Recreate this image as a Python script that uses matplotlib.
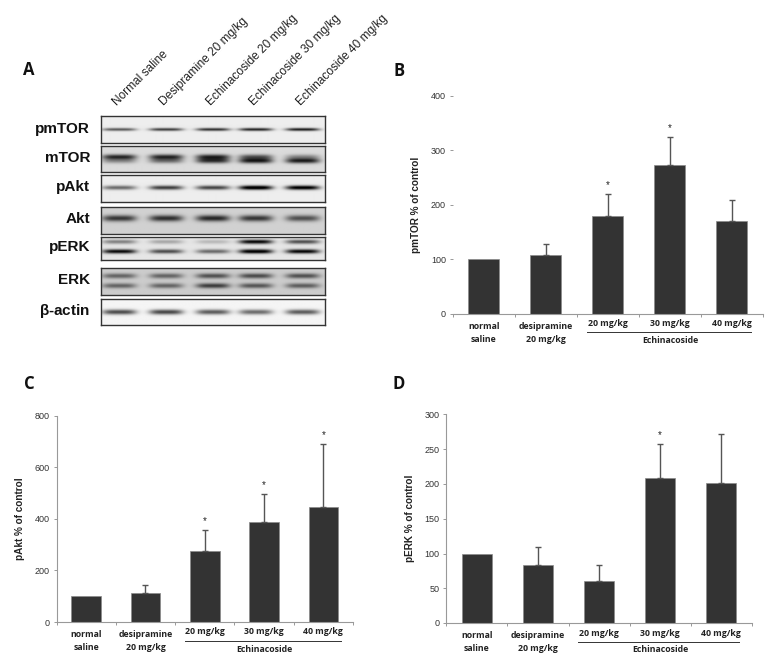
import numpy as np
import matplotlib
matplotlib.use('Agg')
import matplotlib.pyplot as plt

W, H = 779, 666

# bar panel data
cats = ['normal\nsaline', 'desipramine\n20 mg/kg', '20 mg/kg', '30 mg/kg', '40 mg/kg']
pmtor = [100, 108, 180, 273, 170]
pmtor_err = [0, 20, 40, 52, 40]
pmtor_stars = [2, 3]
pakt = [100, 113, 275, 387, 445]
pakt_err = [0, 30, 81, 108, 243]
pakt_stars = [2, 3, 4]
perk = [100, 84, 60, 209, 201]
perk_err = [0, 26, 23, 48, 71]
perk_stars = [3]

# blot data
lane_labels = ['Normal saline', 'Desipramine 20 mg/kg', 'Echinacoside 20 mg/kg',
               'Echinacoside 30 mg/kg', 'Echinacoside 40 mg/kg']
blot_names = ['pmTOR', 'mTOR', 'pAkt', 'Akt', 'pERK', 'ERK', '$\\mathregular{\\beta}$-actin']
# one row per band: vertical place in the box, then darkness in each lane
pmtor_bands = [(0.48, [0.55, 0.65, 0.70, 0.75, 0.78])]
mtor_bands = [(0.40, [0.68, 0.68, 0.68, 0.50, 0.30]), (0.55, [0.30, 0.40, 0.62, 0.72, 0.72])]
pakt_bands = [(0.45, [0.50, 0.68, 0.65, 1.0, 0.95])]
akt_bands = [(0.42, [0.62, 0.65, 0.68, 0.62, 0.52])]
perk_bands = [(0.22, [0.40, 0.25, 0.18, 0.90, 0.60]), (0.62, [0.90, 0.62, 0.50, 1.0, 0.92])]
erk_bands = [(0.30, [0.42, 0.42, 0.50, 0.52, 0.50]), (0.65, [0.42, 0.42, 0.58, 0.48, 0.45])]
actin_bands = [(0.50, [0.68, 0.70, 0.62, 0.55, 0.62])]
blot_bands = [pmtor_bands, mtor_bands, pakt_bands, akt_bands, perk_bands, erk_bands, actin_bands]
band_sigma = [1.6, 2.6, 2.2, 3.0, 2.0, 2.4, 2.4]
blot_bg = [0.93, 0.86, 0.93, 0.82, 0.90, 0.80, 0.96]
blot_tops = [116, 146, 175, 207, 237, 268, 299]
blot_bottoms = [143, 172, 202, 234, 260, 295, 325]
lane_centers = [118, 165, 212, 255, 302]

plt.rcParams['font.family'] = ['Liberation Sans', 'DejaVu Sans']
fig = plt.figure(figsize=(W / 100, H / 100), dpi=100)


def px_axes(left, top, right, bottom):
    return fig.add_axes([left / W, 1 - bottom / H, (right - left) / W, (bottom - top) / H])


def blot(top, bottom, bands, sigma, bg):
    ax = px_axes(100.5, top, 325.5, bottom)
    xs = np.arange(100, 326)[:, None]
    ys = np.arange(top, bottom)[None, :]
    img = np.full((bottom - top, 226), bg, dtype=float)
    for frac, levels in bands:
        yc = top + frac * (bottom - top)
        for lc, lev in zip(lane_centers, levels):
            across = np.exp(-((xs - lc) / 17.0) ** 4)
            down = np.exp(-((ys - yc) / sigma) ** 2)
            img -= lev * (across * down).T
    ax.imshow(np.clip(img, 0, 1), cmap='gray', vmin=0, vmax=1, aspect='auto',
              interpolation='bilinear')
    ax.set_xticks([])
    ax.set_yticks([])
    for s in ax.spines.values():
        s.set_color('#333333')
        s.set_linewidth(1.0)


def bars(left, top, right, bottom, vals, errs, stars, ymax, step, ylabel, yaxis=True):
    ax = px_axes(left, top, right, bottom)
    x = np.arange(5)
    ax.bar(x, vals, width=0.5, color='#333333', edgecolor='#8a8a8a', linewidth=0.5)
    up = [i for i in x if errs[i] > 0]
    ax.errorbar(up, [vals[i] for i in up], yerr=[[0] * len(up), [errs[i] for i in up]],
                fmt='none', ecolor='#555555', elinewidth=1.0, capsize=2, capthick=1.0)
    ax.set_xlim(-0.5, 4.5)
    ax.set_ylim(0, ymax)
    ax.set_yticks(np.arange(0, ymax + 1, step))
    ax.set_xticks(np.arange(6) - 0.5)
    ax.set_xticklabels([])
    ax.tick_params(axis='both', length=2, width=0.6, color='#888888',
                   labelsize=6.5, labelcolor='#333333', pad=3)
    ax.tick_params(axis='x', direction='out')
    for s in ['top', 'right']:
        ax.spines[s].set_visible(False)
    ax.spines['bottom'].set_color('#999999')
    ax.spines['left'].set_color('#999999')
    ax.spines['left'].set_visible(yaxis)
    ax.patch.set_alpha(0)
    ax.set_ylabel(ylabel, fontsize=7.2, fontweight='bold', color='#222222', labelpad=7)
    for i in stars:
        ax.annotate('*', (i, vals[i] + errs[i]), xytext=(0, 3), textcoords='offset points',
                    ha='center', va='bottom', fontsize=7, color='#222222', annotation_clip=False)
    h = bottom - top
    for i, c in enumerate(cats):
        ypos = -10 / h if i >= 2 else -19 / h
        ax.text(i, ypos, c, transform=ax.get_xaxis_transform(), ha='center', va='center',
                fontsize=6.3, fontweight='bold', family='Open Sans', color='#222222',
                linespacing=1.45)
    ax.plot([1.66, 4.3], [-18.5 / h, -18.5 / h], transform=ax.get_xaxis_transform(),
            color='#333333', lw=0.7, clip_on=False)
    ax.text(3.0, -27 / h, 'Echinacoside', transform=ax.get_xaxis_transform(), ha='center',
            va='center', fontsize=6.3, fontweight='bold', family='Open Sans', color='#222222')


for name, t, b, bnd, sg, bg in zip(blot_names, blot_tops, blot_bottoms, blot_bands,
                                   band_sigma, blot_bg):
    blot(t, b, bnd, sg, bg)
    fig.text(90 / W, 1 - ((t + b) / 2 - 1) / H, name, ha='right', va='center',
             fontsize=11, fontweight='bold', color='#111111')

for lab, lc in zip(lane_labels, lane_centers):
    fig.text((lc + 1) / W, 1 - 108 / H, lab, rotation=45, ha='left', va='bottom',
             rotation_mode='anchor', fontsize=8.6, color='#222222')

bars(453, 96, 763, 314, pmtor, pmtor_err, pmtor_stars, 400, 100, 'pmTOR % of control', yaxis=False)
bars(56.5, 415.5, 353, 622, pakt, pakt_err, pakt_stars, 800, 200, 'pAkt % of control')
bars(446.5, 414.5, 751.5, 623, perk, perk_err, perk_stars, 300, 50, 'pERK % of control')

for lab, x, y in [('A', 29, 70), ('B', 399, 71), ('C', 29, 384), ('D', 399, 384)]:
    fig.text(x / W, 1 - y / H, lab, ha='center', va='center', fontsize=12,
             fontweight='bold', family='Open Sans', color='#111111')

fig.savefig('out.png', dpi=100)
